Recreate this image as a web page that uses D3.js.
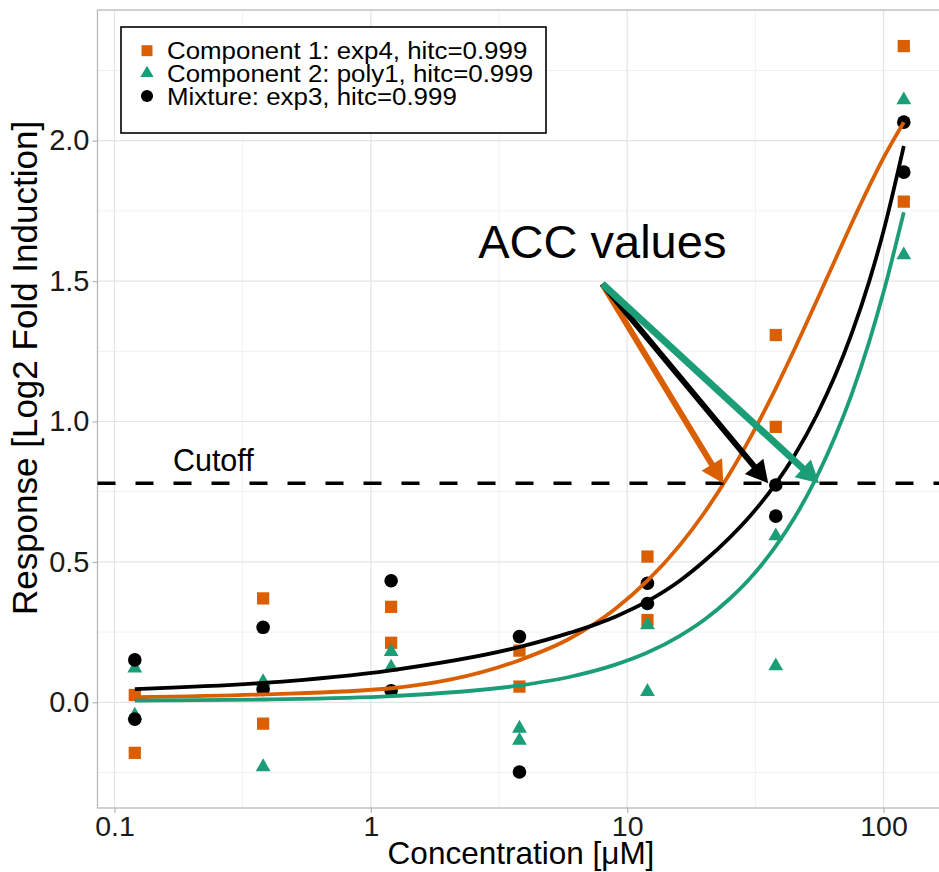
<!DOCTYPE html>
<html>
<head>
<meta charset="utf-8">
<script src="https://cdn.jsdelivr.net/npm/d3@7"></script>
<style>
  html, body { margin: 0; padding: 0; background: #fff; }
  svg { display: block; font-family: "Liberation Sans", Arial, Helvetica, sans-serif; }
</style>
</head>
<body>
<svg id="chart" width="939" height="872"></svg>
<script>
// ---------------- data ----------------
const concentrations = [0.12, 0.38, 1.2, 3.8, 12, 38, 120];
// two replicates per concentration
const comp1Rep1 = [0.026, 0.370, 0.340, 0.184, 0.519, 1.308, 2.337];
const comp1Rep2 = [-0.180, -0.076, 0.212, 0.056, 0.293, 0.981, 1.783];
const comp2Rep1 = [0.121, 0.073, 0.180, -0.093, 0.275, 0.592, 2.145];
const comp2Rep2 = [-0.046, -0.230, 0.125, -0.136, 0.038, 0.129, 1.593];
const mixRep1 = [0.151, 0.267, 0.433, 0.234, 0.424, 0.774, 2.066];
const mixRep2 = [-0.060, 0.046, 0.041, -0.248, 0.352, 0.663, 1.888];

// fitted curves (concentration, response)
const curveX = [0.12, 0.38, 1.2, 3.8, 6, 9, 12, 16, 20, 25, 30, 38, 45, 55, 65, 75, 88, 100, 120];
const comp1CurveY = [0.018, 0.028, 0.05, 0.15, 0.228, 0.333, 0.433, 0.558, 0.675, 0.811, 0.937, 1.118, 1.258, 1.432, 1.579, 1.704, 1.838, 1.939, 2.066];
const comp2CurveY = [0.006, 0.01, 0.022, 0.06, 0.091, 0.134, 0.177, 0.236, 0.294, 0.367, 0.439, 0.556, 0.658, 0.804, 0.95, 1.095, 1.285, 1.46, 1.745];
const mixCurveY = [0.047, 0.069, 0.114, 0.197, 0.248, 0.305, 0.36, 0.432, 0.503, 0.585, 0.661, 0.779, 0.880, 1.024, 1.167, 1.311, 1.500, 1.678, 1.981];

const cutoff = 0.78;
const accConc = [23.7, 35.5, 56];           // component 1, mixture, component 2
const arrowStart = [8.0, 1.49];              // (concentration, response)
const legendLabels = ["Component 1: exp4, hitc=0.999", "Component 2: poly1, hitc=0.999", "Mixture: exp3, hitc=0.999"];
const xTickValues = [0.1, 1, 10, 100];
const xTickLabels = ["0.1", "1", "10", "100"];
const xMinorValues = [0.316228, 3.16228, 31.6228];
const yTickValues = [0, 0.5, 1, 1.5, 2];
const yTickLabels = ["0.0", "0.5", "1.0", "1.5", "2.0"];
const yMinorValues = [-0.25, 0.25, 0.75, 1.25, 1.75, 2.25];

// ---------------- styles / layout ----------------
const ORANGE = "#D95F02", GREEN = "#1B9E77", BLACK = "#000000";
const panel = { left: 97.5, right: 942, top: 10, bottom: 808 };

const svg = d3.select("#chart");
const x = d3.scaleLog().domain([0.1, 100]).range([114.5, 883.5]);
const y = d3.scaleLinear().domain([0, 2]).range([702.3, 140.7]);

// panel background
svg.append("rect").attr("x", panel.left).attr("y", panel.top)
  .attr("width", panel.right - panel.left).attr("height", panel.bottom - panel.top)
  .attr("fill", "#fff");

// grid
const grid = svg.append("g");
grid.selectAll(".xminor").data(xMinorValues).join("line")
  .attr("x1", d => x(d)).attr("x2", d => x(d)).attr("y1", panel.top).attr("y2", panel.bottom)
  .attr("stroke", "#f1f1f1").attr("stroke-width", 1);
grid.selectAll(".yminor").data(yMinorValues).join("line")
  .attr("y1", d => y(d)).attr("y2", d => y(d)).attr("x1", panel.left).attr("x2", panel.right)
  .attr("stroke", "#f1f1f1").attr("stroke-width", 1);
grid.selectAll(".xmajor").data(xTickValues).join("line")
  .attr("x1", d => x(d)).attr("x2", d => x(d)).attr("y1", panel.top).attr("y2", panel.bottom)
  .attr("stroke", "#e4e4e4").attr("stroke-width", 1.2);
grid.selectAll(".ymajor").data(yTickValues).join("line")
  .attr("y1", d => y(d)).attr("y2", d => y(d)).attr("x1", panel.left).attr("x2", panel.right)
  .attr("stroke", "#e4e4e4").attr("stroke-width", 1.2);

// panel border
svg.append("rect").attr("x", panel.left).attr("y", panel.top)
  .attr("width", panel.right - panel.left).attr("height", panel.bottom - panel.top)
  .attr("fill", "none").attr("stroke", "#b8b8b8").attr("stroke-width", 1.3);

// axes
const xAxis = d3.axisBottom(x).tickValues(xTickValues)
  .tickFormat((d, i) => xTickLabels[i]).tickSize(5).tickPadding(2);
const gx = svg.append("g").attr("transform", `translate(0,${panel.bottom})`).call(xAxis);
gx.select(".domain").remove();
gx.selectAll(".tick line").attr("stroke", "#b8b8b8").attr("stroke-width", 1.3);
gx.selectAll(".tick text").attr("font-size", 28.5).attr("fill", "#1a1a1a")
  .attr("font-family", "Liberation Sans, Arial, sans-serif").attr("dy", "0.72em");

const yAxis = d3.axisLeft(y).tickValues(yTickValues)
  .tickFormat((d, i) => yTickLabels[i]).tickSize(5).tickPadding(3);
const gy = svg.append("g").attr("transform", `translate(${panel.left},0)`).call(yAxis);
gy.select(".domain").remove();
gy.selectAll(".tick line").attr("stroke", "#b8b8b8").attr("stroke-width", 1.3);
gy.selectAll(".tick text").attr("font-size", 29).attr("fill", "#1a1a1a")
  .attr("font-family", "Liberation Sans, Arial, sans-serif");

// axis titles
svg.append("text").attr("x", 521).attr("y", 864)
  .attr("text-anchor", "middle").attr("font-size", 31.5).attr("fill", "#000")
  .text("Concentration [μM]");
svg.append("text")
  .attr("transform", `translate(37,368) rotate(-90)`)
  .attr("text-anchor", "middle").attr("font-size", 35).attr("fill", "#000")
  .text("Response [Log2 Fold Induction]");

// ---------------- points ----------------
function pts(rep) { return concentrations.map((c, i) => ({ c, v: rep[i] })); }
const series = [
  { reps: [comp1Rep1, comp1Rep2], color: ORANGE, sym: d3.symbolSquare, size: 150 },
  { reps: [comp2Rep1, comp2Rep2], color: GREEN, sym: d3.symbolTriangle, size: 95 },
  { reps: [mixRep1, mixRep2], color: BLACK, sym: d3.symbolCircle, size: 145 }
];
const gp = svg.append("g");
series.forEach(s => {
  const data = s.reps.flatMap(pts);
  gp.selectAll(null).data(data).join("path")
    .attr("d", d3.symbol().type(s.sym).size(s.size))
    .attr("transform", d => `translate(${x(d.c)},${y(d.v)})`)
    .attr("fill", s.color);
});

// ---------------- curves ----------------
const line = d3.line().x(d => x(d[0])).y(d => y(d[1])).curve(d3.curveMonotoneX);
const curves = [
  { ys: comp1CurveY, color: ORANGE },
  { ys: comp2CurveY, color: GREEN },
  { ys: mixCurveY, color: BLACK }
];
curves.forEach(cv => {
  svg.append("path").datum(curveX.map((c, i) => [c, cv.ys[i]]))
    .attr("d", line).attr("fill", "none").attr("stroke", cv.color)
    .attr("stroke-width", 3.8).attr("stroke-linecap", "butt");
});

// ---------------- cutoff ----------------
svg.append("line").attr("x1", panel.left).attr("x2", panel.right)
  .attr("y1", y(cutoff)).attr("y2", y(cutoff))
  .attr("stroke", "#000").attr("stroke-width", 3.6).attr("stroke-dasharray", "18,20");
svg.append("text").attr("x", x(0.169)).attr("y", y(0.825))
  .attr("font-size", 30.5).attr("fill", "#000").text("Cutoff");

// ---------------- ACC arrows ----------------
svg.append("text").attr("x", x(arrowStart[0])).attr("y", y(1.582))
  .attr("text-anchor", "middle").attr("font-size", 47).attr("fill", "#000").text("ACC values");

const arrowDefs = [
  { conc: accConc[0], color: ORANGE, w: 6 },
  { conc: accConc[1], color: BLACK, w: 6 },
  { conc: accConc[2], color: GREEN, w: 7 }
];
const x0 = x(arrowStart[0]), y0 = y(arrowStart[1]);
arrowDefs.forEach(a => {
  const x1 = x(a.conc), y1 = y(cutoff);
  const dx = x1 - x0, dy = y1 - y0, L = Math.hypot(dx, dy);
  const ux = dx / L, uy = dy / L, px = -uy, py = ux;
  const hl = 22, hw = 12;
  const bx = x1 - ux * hl, by = y1 - uy * hl;
  svg.append("line").attr("x1", x0).attr("y1", y0).attr("x2", bx + ux * 2).attr("y2", by + uy * 2)
    .attr("stroke", a.color).attr("stroke-width", a.w);
  svg.append("path")
    .attr("d", `M${x1},${y1}L${bx + px * hw},${by + py * hw}L${bx - px * hw},${by - py * hw}Z`)
    .attr("fill", a.color);
});

// ---------------- legend ----------------
const lg = svg.append("g");
lg.append("rect").attr("x", 121).attr("y", 27).attr("width", 425).attr("height", 106)
  .attr("fill", "#fff").attr("stroke", "#000").attr("stroke-width", 1.6);
const rowY = [50.7, 73.3, 96];
series.forEach((s, i) => {
  lg.append("path").attr("d", d3.symbol().type(s.sym).size(s.size * 0.8))
    .attr("transform", `translate(147,${rowY[i]})`).attr("fill", s.color);
  lg.append("text").attr("transform", `translate(167,${rowY[i] + 8.6}) scale(1.065,1)`)
    .attr("font-size", 24.3).attr("fill", "#000").text(legendLabels[i]);
});
</script>
</body>
</html>
